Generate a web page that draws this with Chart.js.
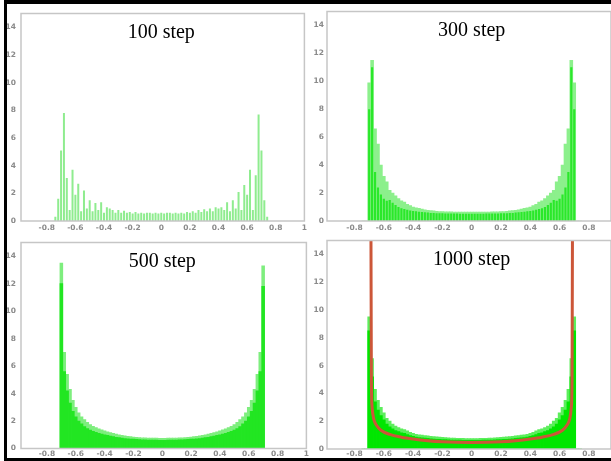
<!DOCTYPE html>
<html><head><meta charset="utf-8">
<script src="https://cdn.jsdelivr.net/npm/chart.js@4/dist/chart.umd.min.js"></script>
<style>
html,body{margin:0;padding:0;background:#fff;}
#wrap{position:relative;width:611px;height:461px;overflow:hidden;background:#fff;}
canvas{position:absolute;}
#frame{position:absolute;left:4px;top:0;width:620px;height:461px;border-top:4px solid #000;border-left:3px solid #000;border-bottom:3px solid #000;box-sizing:border-box;pointer-events:none;z-index:5;}
</style></head>
<body>
<div id="wrap">
<canvas id="c100" width="303" height="229" style="left:7px;top:4px"></canvas>
<canvas id="c300" width="301" height="229" style="left:310px;top:4px"></canvas>
<canvas id="c500" width="303" height="225" style="left:7px;top:233px"></canvas>
<canvas id="c1000" width="301" height="225" style="left:310px;top:233px"></canvas>
<div id="frame"></div>
</div>
<script>
// ---- data ----
const bins = [-0.74,-0.72,-0.70,-0.68,-0.66,-0.64,-0.62,-0.60,-0.58,-0.56,-0.54,-0.52,-0.50,-0.48,-0.46,-0.44,-0.42,-0.40,-0.38,-0.36,-0.34,-0.32,-0.30,-0.28,-0.26,-0.24,-0.22,-0.20,-0.18,-0.16,-0.14,-0.12,-0.10,-0.08,-0.06,-0.04,-0.02,0,0.02,0.04,0.06,0.08,0.10,0.12,0.14,0.16,0.18,0.20,0.22,0.24,0.26,0.28,0.30,0.32,0.34,0.36,0.38,0.40,0.42,0.44,0.46,0.48,0.50,0.52,0.54,0.56,0.58,0.60,0.62,0.64,0.66,0.68,0.70,0.72,0.74];

const step100 = [0.3,1.6,5.1,7.8,3.1,0.8,3.7,1.9,2.7,0.7,2.2,0.9,1.5,0.7,1.3,0.8,1.35,0.6,1.0,0.9,0.8,0.6,0.8,0.6,0.75,0.6,0.65,0.55,0.65,0.55,0.6,0.55,0.6,0.6,0.55,0.6,0.55,0.6,
  0.55,0.6,0.6,0.55,0.6,0.55,0.6,0.55,0.65,0.6,0.7,0.6,0.8,0.65,0.85,0.7,0.9,0.7,1.0,0.9,1.0,0.8,1.35,0.7,1.5,0.9,2.1,0.8,2.6,1.9,3.7,0.8,3.3,7.7,5.1,1.5,0.3];

const env300 = [0,0,9.9,11.5,6.6,5.5,4.0,3.2,2.8,2.2,2.0,1.8,1.6,1.45,1.35,1.2,1.1,1.0,0.95,0.9,0.85,0.8,0.77,0.74,0.72,0.7,0.68,0.67,0.66,0.65,0.65,0.64,0.64,0.64,0.63,0.63,0.63,0.63,
  0.63,0.63,0.63,0.64,0.64,0.64,0.65,0.65,0.66,0.67,0.68,0.7,0.72,0.74,0.77,0.8,0.85,0.9,0.95,1.0,1.1,1.2,1.35,1.45,1.6,1.8,2.0,2.2,2.8,3.2,4.0,5.5,6.6,11.5,9.9,0,0];
const core300 = [0,0,8.0,11.0,3.5,2.4,1.9,1.6,1.45,1.5,1.3,1.15,1.0,0.92,0.86,0.8,0.76,0.72,0.7,0.67,0.64,0.62,0.6,0.58,0.57,0.56,0.55,0.55,0.54,0.54,0.53,0.53,0.53,0.52,0.52,0.52,0.52,0.52,
  0.52,0.52,0.52,0.52,0.53,0.53,0.53,0.54,0.54,0.55,0.55,0.56,0.57,0.58,0.6,0.62,0.64,0.67,0.7,0.72,0.76,0.8,0.86,0.92,1.0,1.15,1.3,1.5,1.45,1.6,1.9,2.4,3.5,11.0,8.0,0,0];

const env500 = [0,0,13.5,7.0,5.4,4.3,3.5,3.0,2.6,2.3,2.1,1.9,1.75,1.62,1.52,1.44,1.36,1.29,1.22,1.16,1.1,1.05,1.0,0.96,0.92,0.88,0.86,0.84,0.82,0.8,0.78,0.77,0.76,0.76,0.75,0.75,0.74,0.74,
  0.74,0.75,0.75,0.76,0.76,0.77,0.78,0.8,0.82,0.84,0.86,0.88,0.92,0.96,1.0,1.05,1.1,1.16,1.22,1.29,1.36,1.44,1.52,1.62,1.75,1.9,2.1,2.3,2.6,3.0,3.5,4.3,5.4,7.0,13.3,0,0];
const core500 = [0,0,12.0,5.6,4.2,3.3,2.7,2.3,2.0,1.8,1.6,1.45,1.35,1.25,1.17,1.1,1.05,1.0,0.95,0.9,0.86,0.82,0.79,0.76,0.73,0.71,0.69,0.68,0.66,0.65,0.64,0.63,0.62,0.62,0.61,0.61,0.6,0.6,
  0.6,0.61,0.61,0.62,0.62,0.63,0.64,0.65,0.66,0.68,0.69,0.71,0.73,0.76,0.79,0.82,0.86,0.9,0.95,1.0,1.05,1.1,1.17,1.25,1.35,1.45,1.6,1.8,2.0,2.3,2.7,3.3,4.2,5.6,11.8,0,0];

const env1000 = [0,0,9.5,6.5,4.3,3.5,3.0,2.6,2.2,2.0,1.8,1.65,1.55,1.45,1.4,1.3,1.2,1.12,1.06,1.02,1.0,0.97,0.94,0.92,0.9,0.88,0.86,0.84,0.82,0.8,0.79,0.78,0.77,0.76,0.76,0.75,0.75,0.75,
  0.75,0.75,0.76,0.76,0.77,0.78,0.79,0.8,0.82,0.84,0.86,0.88,0.9,0.92,0.94,0.97,1.0,1.02,1.06,1.12,1.2,1.3,1.4,1.45,1.55,1.65,1.8,2.0,2.2,2.6,3.0,3.5,4.3,6.5,9.5,0,0];
const core1000 = [0,0,8.5,5.2,3.4,2.8,2.4,2.1,1.8,1.6,1.45,1.33,1.25,1.17,1.12,1.04,0.97,0.91,0.86,0.83,0.8,0.78,0.76,0.74,0.72,0.7,0.69,0.68,0.67,0.66,0.65,0.65,0.64,0.64,0.63,0.63,0.63,0.63,
  0.63,0.63,0.63,0.64,0.64,0.65,0.65,0.66,0.67,0.68,0.69,0.7,0.72,0.74,0.76,0.78,0.8,0.83,0.86,0.91,0.97,1.04,1.12,1.17,1.25,1.33,1.45,1.6,1.8,2.1,2.4,2.8,3.4,5.2,8.5,0,0];

const limitX = [-0.688,-0.685,-0.680,-0.670,-0.650,-0.620,-0.560,-0.480,-0.400,-0.300,-0.200,-0.100,0,0.100,0.200,0.300,0.400,0.480,0.560,0.620,0.650,0.670,0.680,0.685,0.688];
const limitY = [16,5.0,3.0,2.2,1.7,1.35,1.05,0.85,0.72,0.6,0.52,0.48,0.47,0.48,0.52,0.6,0.72,0.85,1.05,1.35,1.7,2.2,3.0,5.0,16];

const xTickVals = [-0.8,-0.6,-0.4,-0.2,0,0.2,0.4,0.6,0.8,1];
const yTickVals = [0,2,4,6,8,10,12,14];
const titles = ['100 step','300 step','500 step','1000 step'];

// ---- helpers ----
function pts(xs, ys){ return xs.map((x,i)=>({x:x, y:ys[i]})); }

const framePlugin = {
  id:'frame',
  afterDatasetsDraw(chart){
    const a = chart.chartArea, ctx = chart.ctx;
    ctx.save();
    ctx.strokeStyle = '#c6c6c6';
    ctx.lineWidth = 1.5;
    ctx.strokeRect(a.left, a.top, a.right - a.left, a.bottom - a.top);
    ctx.restore();
  }
};
const titlePlugin = {
  id:'panelTitle',
  afterDraw(chart, args, opts){
    const ctx = chart.ctx, x = chart.scales.x, y = chart.scales.y;
    ctx.save();
    ctx.font = '20px "Liberation Serif", "DejaVu Serif", serif';
    ctx.fillStyle = '#000';
    ctx.textAlign = 'center';
    ctx.textBaseline = 'middle';
    ctx.fillText(opts.text, x.getPixelForValue(0), y.getPixelForValue(13.6));
    ctx.restore();
  }
};

function bar(ys, color, order, pct){
  return {type:'bar', data:pts(bins, ys), backgroundColor:color, borderWidth:0,
          barPercentage:pct, categoryPercentage:1, grouped:false, order:order};
}

const tickFont = {family:'DejaVu Sans', size:7.5, weight:'bold'};

function makeChart(id, g, datasets, title){
  new Chart(document.getElementById(id), {
    type:'bar',
    data:{datasets:datasets},
    options:{
      responsive:false, animation:false, devicePixelRatio:1,
      layout:{padding:{top:g.padTop, right:g.padRight, left:0, bottom:0}},
      plugins:{legend:{display:false}, tooltip:{enabled:false}, panelTitle:{text:title}},
      scales:{
        x:{type:'linear', min:g.xMin, max:g.xMax, offset:false,
           afterBuildTicks(s){ s.ticks = xTickVals.filter(v => v >= g.xMin - 1e-9 && v <= g.xMax + 1e-9).map(v => ({value:v})); },
           afterFit(s){ s.height = g.xH; },
           grid:{display:false, drawTicks:false, tickLength:0}, border:{display:false},
           ticks:{autoSkip:false, maxRotation:0, minRotation:0, padding:g.xPad, color:'#8a8a8a',
                  font:tickFont, callback:(v)=>String(v)}},
        y:{type:'linear', min:0, max:15,
           afterBuildTicks(s){ s.ticks = yTickVals.map(v => ({value:v})); },
           afterFit(s){ s.width = g.yW; },
           grid:{display:false, drawTicks:false, tickLength:0}, border:{display:false},
           ticks:{padding:g.yPad, color:'#8a8a8a', font:tickFont, callback:(v)=>String(v)}}
      }
    },
    plugins:[framePlugin, titlePlugin]
  });
}

const gTL = {padTop:2, padRight:3, xMin:-0.98, xMax:1.0, xH:12, yW:14, xPad:3, yPad:5};
const gTR = {padTop:2, padRight:0, xMin:-0.988, xMax:0.951, xH:12, yW:17, xPad:3, yPad:3};
const gBL = {padTop:1, padRight:3, xMin:-0.98, xMax:1.0, xH:9, yW:14, xPad:1, yPad:5};
const gBR = {padTop:1, padRight:0, xMin:-0.988, xMax:0.951, xH:9, yW:17, xPad:1, yPad:3};

makeChart('c100', gTL, [bar(step100, '#8fec8f', 1, 0.7)], titles[0]);
makeChart('c300', gTR, [bar(env300, '#8cf08c', 2, 1), bar(core300, '#2ae82a', 1, 0.75)], titles[1]);
makeChart('c500', gBL, [bar(env500, '#7eee7e', 2, 1), bar(core500, '#22e622', 1, 1)], titles[2]);
makeChart('c1000', gBR, [
  {type:'line', data:pts(limitX, limitY), borderColor:'#cc5638', borderWidth:3, pointRadius:0,
   cubicInterpolationMode:'monotone', order:0},
  bar(env1000, '#5cee5c', 2, 1), bar(core1000, '#00e600', 1, 1)], titles[3]);
</script>
</body></html>
